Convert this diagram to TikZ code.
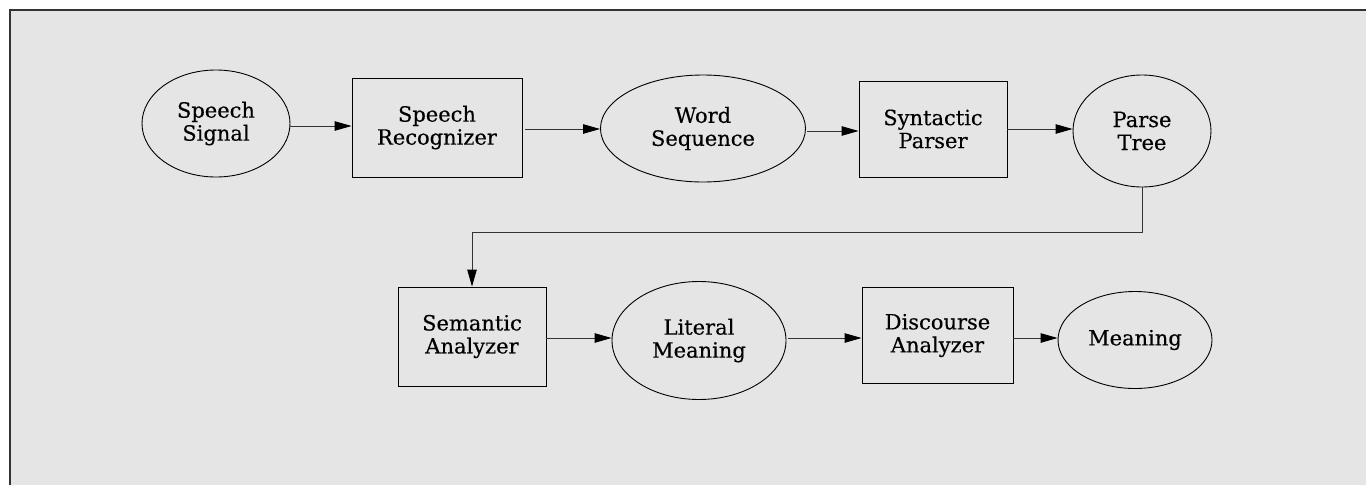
\documentclass[tikz,border=0pt]{standalone}
\usepackage{fontspec}
\setmainfont{DejaVu Serif}[FakeBold=0.35]
\usetikzlibrary{arrows.meta,shapes.geometric}
\definecolor{bgc}{HTML}{E5E5E5}
\definecolor{linec}{HTML}{333333}
\tikzset{
  lbl/.style={font=\fontsize{21}{23}\selectfont, align=center, text=black, inner sep=0pt},
  ell/.style={lbl, draw=black, line width=0.9pt, ellipse},
  boxn/.style={lbl, draw=black, line width=0.9pt, rectangle},
  arr/.style={draw=linec, line width=0.9pt, -{Triangle[length=17pt,width=9.5pt,color=black]}},
  frameline/.style={draw=linec, line width=1.8pt}
}
\begin{document}
\begin{tikzpicture}[x=1pt,y=-1pt]
\useasboundingbox (0,0) rectangle (1366,485);
\fill[bgc] (10,10) rectangle (1366,485);
\draw[frameline] (10,485) -- (10,10) -- (1366,10);

\node[ell, minimum width=148pt, minimum height=107pt] (ss) at (216,123.5) {Speech\\Signal};
\node[boxn, minimum width=170pt, minimum height=99pt] (sr) at (437,127.5) {Speech\\Recognizer};
\node[ell, minimum width=205pt, minimum height=107pt] (ws) at (703,128.5) {Word\\Sequence};
\node[boxn, minimum width=148pt, minimum height=96pt] (sp) at (933,129) {Syntactic\\Parser};
\node[ell, minimum width=138pt, minimum height=112pt] (pt) at (1142,131) {Parse\\Tree};

\node[boxn, minimum width=148pt, minimum height=99pt] (sa) at (472,336.5) {Semantic\\Analyzer};
\node[ell, minimum width=174pt, minimum height=118pt] (lm) at (699,340.5) {Literal\\Meaning};
\node[boxn, minimum width=151pt, minimum height=96pt] (da) at (937.5,335.5) {Discourse\\Analyzer};
\node[ell, minimum width=154pt, minimum height=97pt] (mn) at (1135,340) {Meaning};

\coordinate (y1) at (0,126);
\coordinate (y2) at (0,129);
\coordinate (y3) at (0,131);
\coordinate (y4) at (0,129);
\coordinate (y5) at (0,338);
\coordinate (turn) at (0,232);

\draw[arr] (ss.east |- y1) -- (sr.west |- y1);
\draw[arr] ([xshift=3pt]sr.east |- y2) -- (ws.west |- y2);
\draw[arr] ([xshift=1pt]ws.east |- y3) -- (sp.west |- y3);
\draw[arr] (sp.east |- y4) -- (pt.west |- y4);
\draw[arr] (pt.south) -- (pt.south |- turn) -| (sa.north);
\draw[arr] (sa.east |- y5) -- (lm.west |- y5);
\draw[arr] ([xshift=2pt]lm.east |- y5) -- (da.west |- y5);
\draw[arr] (da.east |- y5) -- (mn.west |- y5);
\end{tikzpicture}
\end{document}
